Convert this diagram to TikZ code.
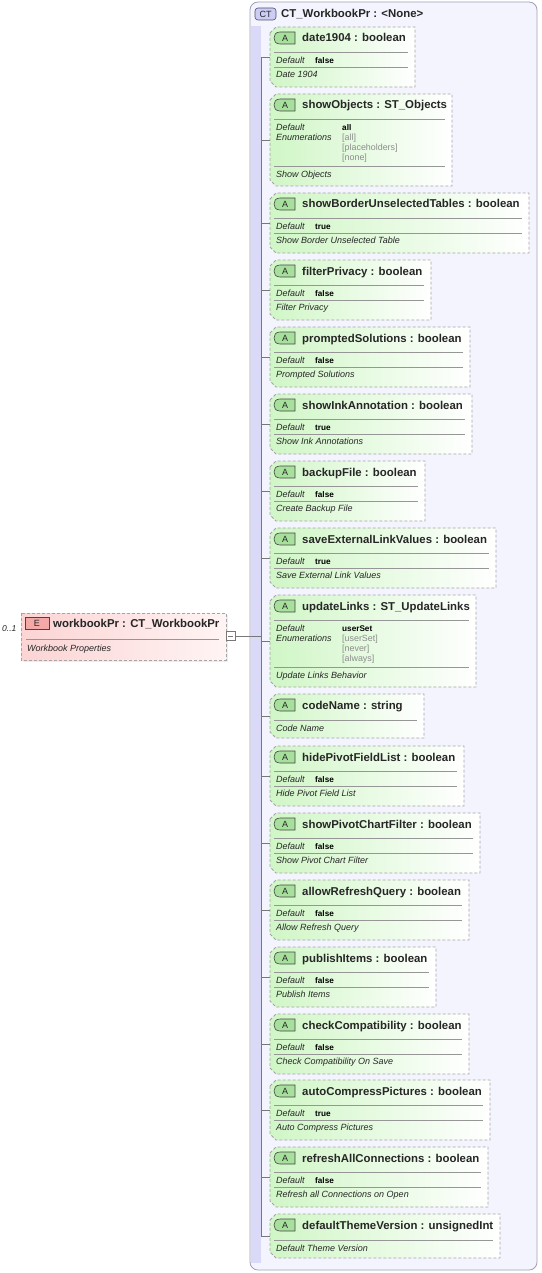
\documentclass[tikz,border=0pt]{standalone}
\usepackage{fontspec}
\setmainfont{Liberation Sans}
\definecolor{attrgreen}{RGB}{208,246,198}
\definecolor{badgegreen}{RGB}{166,224,156}
\definecolor{badgeline}{RGB}{70,70,70}
\definecolor{bordergray}{RGB}{165,165,165}
\definecolor{sepgray}{RGB}{150,150,150}
\definecolor{conngray}{RGB}{120,120,120}
\definecolor{enumgray}{RGB}{140,140,140}
\definecolor{ctfill}{RGB}{244,244,255}
\definecolor{ctstripe}{RGB}{218,218,248}
\definecolor{ctborder}{RGB}{160,160,180}
\definecolor{ctbadge}{RGB}{204,204,244}
\definecolor{ctbadgeline}{RGB}{80,80,110}
\definecolor{elempink}{RGB}{252,212,212}
\definecolor{elemright}{RGB}{255,244,244}
\definecolor{ebadgefill}{RGB}{244,168,168}
\tikzset{
  attrbody/.style={draw=bordergray, dash pattern=on 3pt off 2pt, line width=0.8pt, left color=attrgreen, right color=white},
  badge/.style={draw=badgeline, line width=0.6pt, fill=badgegreen},
  badgetext/.style={inner sep=0pt, font=\fontsize{9}{10}\selectfont, text=black!85},
  hdr/.style={anchor=base west, inner sep=0pt, font=\fontsize{11.4}{13}\bfseries\selectfont, text=black!85},
  lbl/.style={anchor=base west, inner sep=0pt, font=\fontsize{9}{10}\itshape\selectfont, text=black!85},
  val/.style={anchor=base west, inner sep=0pt, font=\fontsize{8.2}{10}\bfseries\selectfont},
  enumv/.style={anchor=base west, inner sep=0pt, font=\fontsize{8.9}{10}\selectfont, text=enumgray},
  sep/.style={draw=sepgray, line width=0.7pt},
  conn/.style={draw=conngray, line width=0.7pt},
  elembody/.style={draw=bordergray, dash pattern=on 3pt off 2pt, line width=0.8pt, left color=elempink, right color=elemright},
  minusbox/.style={draw=conngray, fill=white, line width=0.6pt, minimum width=9pt, minimum height=9pt, inner sep=0pt},
}
\newcommand\attrshape[4]{%
  \path[attrbody] (270,#2+6) -- (276,#2) -- (#3,#2) -- (#3,#2+#4) -- (276,#2+#4) -- (270,#2+#4-6) -- cycle;
  \draw[badge] (295,#2+5) -- (280,#2+5) .. controls (275.5,#2+5) and (274,#2+8) .. (274,#2+11) .. controls (274,#2+14) and (275.5,#2+17) .. (280,#2+17) -- (295,#2+17) -- cycle;
  \node[badgetext] (#1-badge) at (285,#2+11) {A};
  \coordinate (#1-t) at (270,#2+#4/2);
  \coordinate (#1-j) at (261,#2+#4/2);
  \draw[conn] (#1-j) -- (#1-t);
}
\newcommand\attrstd[7]{%
  \attrshape{#1}{#2}{#3}{60}
  \node[hdr] (#1-h) at (302,#2+15) {#4 : #5};
  \draw[sep] (274,#2+25) -- (#3-7,#2+25);
  \node[lbl] (#1-dl) at (276,#2+36.2) {Default};
  \node[val] (#1-dv) at (315,#2+36.2) {#6};
  \draw[sep] (274,#2+40) -- (#3-7,#2+40);
  \node[lbl] (#1-d) at (276,#2+50.4) {#7};
}
\newcommand\attrnodef[6]{%
  \attrshape{#1}{#2}{#3}{44}
  \node[hdr] (#1-h) at (302,#2+15) {#4 : #5};
  \draw[sep] (274,#2+26) -- (#3-7,#2+26);
  \node[lbl] (#1-d) at (276,#2+37.4) {#6};
}
\newcommand\attrenum[9]{%
  \attrshape{#1}{#2}{#3}{92}
  \node[hdr] (#1-h) at (302,#2+15) {#4 : #5};
  \draw[sep] (274,#2+25) -- (#3-7,#2+25);
  \node[lbl] (#1-dl) at (276,#2+36.2) {Default};
  \node[val] (#1-dv) at (342,#2+36.2) {#6};
  \node[lbl] (#1-el) at (276,#2+46.2) {Enumerations};
  \node[enumv] (#1-e1) at (342,#2+46.2) {#7};
  \node[enumv] (#1-e2) at (342,#2+56.2) {#8};
  \node[enumv] (#1-e3) at (342,#2+66.2) {#9};
  \draw[sep] (274,#2+72) -- (#3-7,#2+72);
}
\begin{document}
\begin{tikzpicture}[x=1pt,y=-1pt]
\useasboundingbox (0,0) rectangle (541,1273);
\fill[white] (0,0) rectangle (541,1273);
% complex type container
\path[draw=ctborder, fill=ctfill, line width=0.8pt, rounded corners=8pt] (250,2) rectangle (537,1270);
\fill[ctstripe] (250.6,26) rectangle (261,1263);
\draw[fill=ctbadge, draw=ctbadgeline, line width=0.6pt, rounded corners=3pt] (255,8) rectangle (276,20);
\node[badgetext] (ct-badge) at (265.5,14) {CT};
\node[hdr] (ct-h) at (281,18) {CT\_WorkbookPr : <None>};
% attributes
\attrstd{date}{27}{415}{date1904}{boolean}{false}{Date 1904}
\attrenum{showobj}{94}{452}{showObjects}{ST\_Objects}{all}{[all]}{[placeholders]}{[none]}
\node[lbl] (showobj-d) at (276,94+83.4) {Show Objects};
\attrstd{border}{193}{529}{showBorderUnselectedTables}{boolean}{true}{Show Border Unselected Table}
\attrstd{filter}{260}{431}{filterPrivacy}{boolean}{false}{Filter Privacy}
\attrstd{prompted}{327}{470}{promptedSolutions}{boolean}{false}{Prompted Solutions}
\attrstd{ink}{394}{472}{showInkAnnotation}{boolean}{true}{Show Ink Annotations}
\attrstd{backup}{461}{425}{backupFile}{boolean}{false}{Create Backup File}
\attrstd{saveext}{528}{496}{saveExternalLinkValues}{boolean}{true}{Save External Link Values}
\attrenum{update}{595}{476}{updateLinks}{ST\_UpdateLinks}{userSet}{[userSet]}{[never]}{[always]}
\node[lbl] (update-d) at (276,595+83.4) {Update Links Behavior};
\attrnodef{code}{694}{424}{codeName}{string}{Code Name}
\attrstd{hidepivot}{746}{464}{hidePivotFieldList}{boolean}{false}{Hide Pivot Field List}
\attrstd{pivotchart}{813}{480}{showPivotChartFilter}{boolean}{false}{Show Pivot Chart Filter}
\attrstd{refreshq}{880}{469}{allowRefreshQuery}{boolean}{false}{Allow Refresh Query}
\attrstd{publish}{947}{436}{publishItems}{boolean}{false}{Publish Items}
\attrstd{compat}{1014}{469}{checkCompatibility}{boolean}{false}{Check Compatibility On Save}
\attrstd{compress}{1080}{490}{autoCompressPictures}{boolean}{true}{Auto Compress Pictures}
\attrstd{refreshall}{1147}{488}{refreshAllConnections}{boolean}{false}{Refresh all Connections on Open}
\attrnodef{theme}{1214}{500}{defaultThemeVersion}{unsignedInt}{Default Theme Version}
% tree line
\draw[conn] (date-j) -- (theme-j);
% element
\fill[black!7] (23,615) rectangle (228,662);
\path[elembody] (21,613) rectangle (226,660);
\draw[draw=badgeline, fill=ebadgefill, line width=0.6pt] (25,617) rectangle (49,629);
\node[badgetext] (elem-badge) at (37,623) {E};
\node[hdr] (elem-h) at (53,627) {workbookPr : CT\_WorkbookPr};
\draw[sep] (26,639) -- (219,639);
\node[lbl] (elem-d) at (27,651.4) {Workbook Properties};
\node[lbl, font=\fontsize{8.5}{10}\itshape\selectfont] (elem-occ) at (2,631) {0..1};
\node[minusbox] (elem-minus) at (230.5,636) {};
\draw[conn] ([xshift=-2.5pt]elem-minus.center) -- ([xshift=2.5pt]elem-minus.center);
\coordinate (ct-join) at (261,636);
\draw[conn] (elem-minus.east) -- (ct-join);
\end{tikzpicture}
\end{document}
